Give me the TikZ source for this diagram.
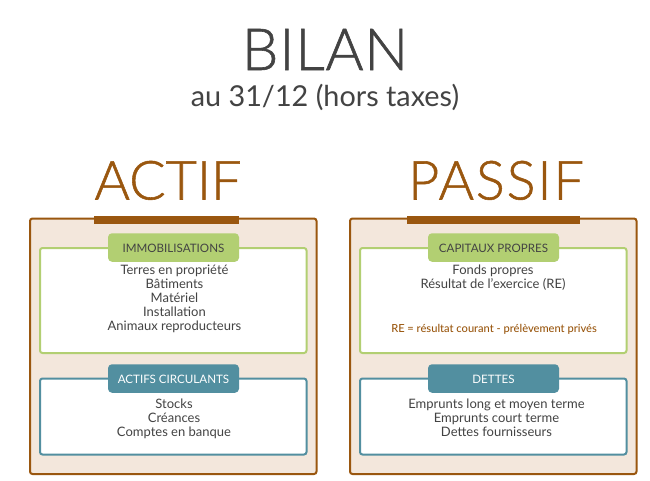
\documentclass[tikz,border=0pt]{standalone}
\usepackage{fontspec}
\setmainfont{Lato}
\newfontfamily\lightfont[FakeBold=1]{Lato Light}
\newfontfamily\spacedfont[FakeBold=1,LetterSpace=3.5]{Lato Light}
\newfontfamily\wideTitle[FakeBold=1,LetterSpace=1.5]{Lato Light}
\newfontfamily\medfont{Lato Medium}
\newcommand{\tabtext}[1]{\smash{\raisebox{-5pt}{#1}}}
\definecolor{brun}{HTML}{9A570F}
\definecolor{beige}{HTML}{F3E7DC}
\definecolor{vert}{HTML}{B2CF72}
\definecolor{bleu}{HTML}{528FA0}
\definecolor{gris}{HTML}{434343}
\tikzset{
  x=1pt,y=-1pt,
  outerbox/.style={draw=brun,fill=beige,line width=2pt,rounded corners=2.5pt},
  greenbox/.style={draw=vert,fill=white,line width=2pt,rounded corners=2.5pt},
  bluebox/.style={draw=bleu,fill=white,line width=2pt,rounded corners=2.5pt},
  greentab/.style={fill=vert,rounded corners=4pt,text=gris,font=\fontsize{11.6}{13}\selectfont,inner sep=0pt,minimum width=131pt,minimum height=28.5pt},
  bluetab/.style={fill=bleu,rounded corners=4pt,text=white,font=\fontsize{11.6}{13}\selectfont,inner sep=0pt,minimum width=131pt,minimum height=28.5pt},
  bodytext/.style={text=gris,font=\fontsize{13}{14.2}\selectfont,align=center,inner sep=0pt,anchor=north},
  barbar/.style={fill=brun}
}
\begin{document}
\begin{tikzpicture}
\useasboundingbox (0,0) rectangle (650,480);
\fill[white] (0,0) rectangle (650,480);
\node[text=gris,font=\wideTitle\fontsize{58}{64}\selectfont,inner sep=0pt,anchor=base] (bilan) at (325,70) {BILAN};
\node[text=gris,font=\fontsize{28.8}{32}\selectfont,inner sep=0pt,anchor=base] (date) at (325,106) {au 31/12 (hors taxes)};
\node[text=brun,font=\lightfont\fontsize{54}{60}\selectfont,inner sep=0pt,anchor=base] (actif) at (168,199.5) {ACTIF};
\node[text=brun,font=\spacedfont\fontsize{54}{60}\selectfont,inner sep=0pt,anchor=base] (passif) at (496,199.5) {PASSIF};
% left
\draw[outerbox] (30,218.5) rectangle (316.5,474);
\fill[barbar] (94,216) rectangle (239,224);
\draw[greenbox] (40,248) rectangle (306.5,353);
\node[greentab] (immo) at (173.5,247.5) {\tabtext{IMMOBILISATIONS}};
\node[bodytext] (immot) at (174.5,264.5) {Terres en propriété\\Bâtiments\\Matériel\\Installation\\Animaux reproducteurs};
\draw[bluebox] (40,378.5) rectangle (306.5,454.5);
\node[bluetab] (circ) at (173.5,378.5) {\tabtext{ACTIFS CIRCULANTS}};
\node[bodytext] (circt) at (174,398.5) {Stocks\\Créances\\Comptes en banque};
% right
\draw[outerbox] (350,218.5) rectangle (636.5,474);
\fill[barbar] (407,216) rectangle (580,224);
\draw[greenbox] (360,248) rectangle (626.5,353);
\node[greentab] (cap) at (493.5,247.5) {\tabtext{CAPITAUX PROPRES}};
\node[bodytext] (capt) at (493,264.5) {Fonds propres\\Résultat de l'exercice (RE)};
\node[text=brun,font=\medfont\fontsize{11.1}{12}\selectfont,inner sep=0pt] (re) at (494,329.5) {RE = résultat courant - prélèvement privés};
\draw[bluebox] (360,378.5) rectangle (626.5,454.5);
\node[bluetab] (dettes) at (493.5,378.5) {\tabtext{DETTES}};
\node[bodytext] (dettest) at (496.5,398.5) {Emprunts long et moyen terme\\Emprunts court terme\\Dettes fournisseurs};
\end{tikzpicture}
\end{document}
